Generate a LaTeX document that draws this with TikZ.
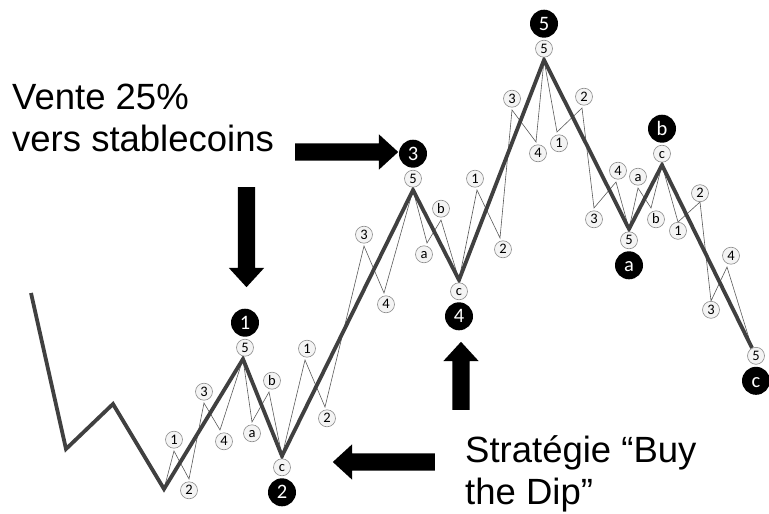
\documentclass[tikz,border=0pt]{standalone}
\usepackage{fontspec}
\setmainfont{Liberation Sans}
\newfontfamily\calib{Carlito}
\usepackage{tikz}
\usetikzlibrary{shapes,arrows,positioning,calc}
\definecolor{wavegray}{HTML}{404040}
\definecolor{subgray}{HTML}{5A5A5A}
\definecolor{ringgray}{HTML}{8C8C8C}
\definecolor{ringfill}{HTML}{F4F4F4}
\tikzstyle{mainwave} = [draw=wavegray, line width=3.8pt]
\tikzstyle{subwave} = [draw=subgray, line width=0.6pt]
\tikzstyle{sublabel} = [draw=ringgray, fill=ringfill, circle, line width=0.6pt, inner sep=0pt, minimum size=17pt, text height=9.2pt, text depth=0pt, font=\calib\fontsize{14.5}{14.5}\selectfont]
\tikzstyle{wavelabel} = [circle, fill=black, text=white, inner sep=0pt, minimum size=28pt, text height=13pt, text depth=0pt, font=\calib\fontsize{20.5}{20.5}\selectfont]
\tikzstyle{bigarrow} = [single arrow, fill=black, inner xsep=0pt, inner ysep=8.5pt, single arrow head extend=9pt, single arrow tip angle=85, anchor=tail]
\tikzstyle{caption} = [align=left, inner sep=0pt, anchor=north west, font=\fontsize{36.5}{42}\selectfont]

\begin{document}
\begin{tikzpicture}[x=1pt, y=-1pt, node distance=2.5pt]
    \useasboundingbox (0,0) rectangle (769,514);
    % Main wave
    \coordinate (start) at (31,293);
    \coordinate (s1) at (66,449);
    \coordinate (s2) at (113,404);
    \coordinate (s3) at (164,489);
    \coordinate (top1) at (243,359);
    \coordinate (bot2) at (282,456);
    \coordinate (top3) at (413,190);
    \coordinate (bot4) at (459,280);
    \coordinate (top5) at (544,60);
    \coordinate (bota) at (629,229);
    \coordinate (topb) at (662,165);
    \coordinate (endc) at (752,348);
    % Sub waves
    \coordinate (i1) at (174,451);
    \coordinate (i2) at (189,479);
    \coordinate (i3) at (204,403);
    \coordinate (i4) at (220,430);
    \coordinate (iia) at (252,422);
    \coordinate (iib) at (269,392);
    \coordinate (iii1) at (305,360);
    \coordinate (iii2) at (325,407);
    \coordinate (iii3) at (364,246);
    \coordinate (iii4) at (384,293);
    \coordinate (iva) at (427,243);
    \coordinate (ivb) at (441,220);
    \coordinate (v1) at (477,190);
    \coordinate (v2) at (500,238);
    \coordinate (v3) at (512,110);
    \coordinate (v4) at (536,142);
    \coordinate (A1) at (557,132);
    \coordinate (A2) at (582,108);
    \coordinate (A3) at (594,208);
    \coordinate (A4) at (616,182);
    \coordinate (Ba) at (638,188);
    \coordinate (Bb) at (651,208);
    \coordinate (C1) at (678,222);
    \coordinate (C2) at (700,202);
    \coordinate (C3) at (711,301);
    \coordinate (C4) at (727,267);

    % Paths
    \path [subwave] (s3) -- (i1) -- (i2) -- (i3) -- (i4) -- (top1) -- (iia) -- (iib) -- (bot2)
        -- (iii1) -- (iii2) -- (iii3) -- (iii4) -- (top3) -- (iva) -- (ivb) -- (bot4)
        -- (v1) -- (v2) -- (v3) -- (v4) -- (top5) -- (A1) -- (A2) -- (A3) -- (A4) -- (bota)
        -- (Ba) -- (Bb) -- (topb) -- (C1) -- (C2) -- (C3) -- (C4) -- (endc);
    \path [mainwave] (start) -- (s1) -- (s2) -- (s3) -- (top1) -- (bot2) -- (top3) -- (bot4)
        -- (top5) -- (bota) -- (topb) -- (endc);

    % Sub labels
    \node [sublabel, above=of i1] (li1) {1};
    \node [sublabel, below=of i2] (li2) {2};
    \node [sublabel, above=of i3] (li3) {3};
    \node [sublabel, below=of i4, xshift=4pt] (li4) {4};
    \node [sublabel, above=of top1, xshift=2pt] (l1) {5};
    \node [sublabel, below=of iia] (liia) {a};
    \node [sublabel, above=of iib, xshift=3pt] (liib) {b};
    \node [sublabel, below=of bot2] (l2) {c};
    \node [sublabel, above=of iii1, xshift=2pt] (liii1) {1};
    \node [sublabel, below=of iii2, xshift=2pt] (liii2) {2};
    \node [sublabel, above=of iii3] (liii3) {3};
    \node [sublabel, below=of iii4, xshift=2pt] (liii4) {4};
    \node [sublabel, above=of top3] (l3) {5};
    \node [sublabel, below=of iva, xshift=-3pt] (liva) {a};
    \node [sublabel, above=of ivb] (livb) {b};
    \node [sublabel, below=of bot4] (l4) {c};
    \node [sublabel, above=of v1, xshift=-2pt] (lv1) {1};
    \node [sublabel, below=of v2, xshift=3pt] (lv2) {2};
    \node [sublabel, above=of v3] (lv3) {3};
    \node [sublabel, below=of v4, xshift=2pt] (lv4) {4};
    \node [sublabel, above=of top5] (l5) {5};
    \node [sublabel, below=of A1, xshift=2pt] (lA1) {1};
    \node [sublabel, above=of A2, xshift=2pt] (lA2) {2};
    \node [sublabel, below=of A3] (lA3) {3};
    \node [sublabel, above=of A4, xshift=2pt] (lA4) {4};
    \node [sublabel, below=of bota] (la) {5};
    \node [sublabel, above=of Ba] (lBa) {a};
    \node [sublabel, below=of Bb, xshift=5pt] (lBb) {b};
    \node [sublabel, above=of topb] (lb) {c};
    \node [sublabel, below=0pt of C1] (lC1) {1};
    \node [sublabel, above=0pt of C2] (lC2) {2};
    \node [sublabel, below=0pt of C3] (lC3) {3};
    \node [sublabel, above=of C4, xshift=4pt] (lC4) {4};
    \node [sublabel, below=-1pt of endc, xshift=4pt] (lc) {5};

    % Wave labels
    \node [wavelabel, above=2pt of l1] (wave1) {1};
    \node [wavelabel, below=2pt of l2] (wave2) {2};
    \node [wavelabel, above=2pt of l3] (wave3) {3};
    \node [wavelabel, below=2pt of l4] (wave4) {4};
    \node [wavelabel, above=2pt of l5] (wave5) {5};
    \node [wavelabel, below=2pt of la] (wavea) {a};
    \node [wavelabel, above=2pt of lb] (waveb) {b};
    \node [wavelabel, below=2pt of lc] (wavec) {c};

    % Captions and arrows
    \node [caption] (sell) at (12,84) {Vente 25\%\\vers stablecoins};
    \node [caption] (dip) at (465,435) {Stratégie “Buy\\the Dip”};
    \node [bigarrow, minimum height=103pt] (sellright) at (295,152) {};
    \node [bigarrow, minimum height=100pt, rotate=-90] (selldown) at (246.5,187) {};
    \node [bigarrow, minimum height=68pt, rotate=90] (dipup) at (461,410) {};
    \node [bigarrow, minimum height=102pt, rotate=180] (dipleft) at (435,462) {};
\end{tikzpicture}
\end{document}
